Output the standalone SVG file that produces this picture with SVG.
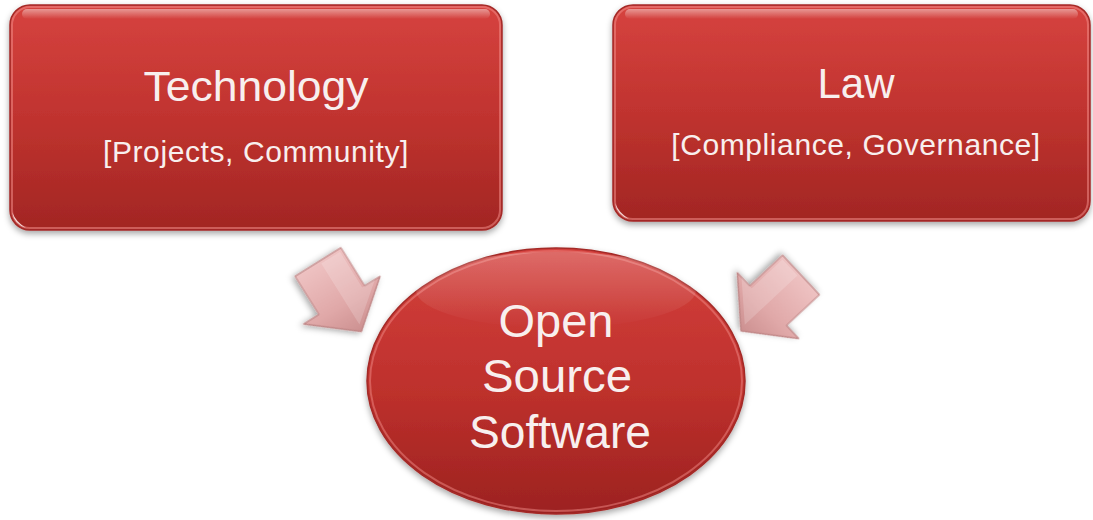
<svg xmlns="http://www.w3.org/2000/svg" width="1093" height="520" viewBox="0 0 1093 520">
<defs>
<linearGradient id="boxFill" x1="0" y1="0" x2="0" y2="1">
<stop offset="0" stop-color="#d6433f"/>
<stop offset="0.5" stop-color="#c0332f"/>
<stop offset="1" stop-color="#a22623"/>
</linearGradient>
<linearGradient id="ellFill" x1="0" y1="0" x2="0" y2="1">
<stop offset="0" stop-color="#d4403c"/>
<stop offset="0.55" stop-color="#bd302c"/>
<stop offset="1" stop-color="#9c2220"/>
</linearGradient>
<linearGradient id="gloss" x1="0" y1="0" x2="0" y2="1">
<stop offset="0" stop-color="#ffffff" stop-opacity="0.45"/>
<stop offset="1" stop-color="#ffffff" stop-opacity="0"/>
</linearGradient>
<linearGradient id="arrowFill" x1="0" y1="0" x2="1" y2="0">
<stop offset="0" stop-color="#eec2c2"/>
<stop offset="0.6" stop-color="#e0a8a8"/>
<stop offset="1" stop-color="#cc9090"/>
</linearGradient>
<filter id="shadow" x="-10%" y="-10%" width="120%" height="130%">
<feDropShadow dx="0" dy="3" stdDeviation="3" flood-color="#000" flood-opacity="0.35"/>
</filter>
<style>
.box{fill:url(#boxFill);stroke:#a42a28;stroke-width:1.5;filter:url(#shadow)}
.rim{fill:none;stroke:#f08a86;stroke-opacity:0.55;stroke-width:2}
.corner{fill:#ffffff;fill-opacity:0.75}
.title{font-family:"Liberation Sans",Arial,sans-serif;fill:#f8efee;text-anchor:middle}
.t1{font-size:42px}
.t2{font-size:30px;letter-spacing:0.6px}
.t3{font-size:46px}
.arrow{fill:url(#arrowFill);stroke:#bf8585;stroke-width:1.2;stroke-linejoin:round;filter:url(#shadow)}
</style>
</defs>

<g id="connectors">
<g id="arrow-left" transform="translate(318,262) rotate(58)">
<polygon class="arrow" points="0,-27 45,-27 45,-45 82,0 45,45 45,27 0,27"/>
<polygon points="3,-24 45,-24 45,-39 75,-2 3,-2" fill="#ffffff" fill-opacity="0.18"/>
</g>
<g id="arrow-right" transform="translate(801,275) rotate(137)">
<polygon class="arrow" points="0,-27 45,-27 45,-45 82,0 45,45 45,27 0,27"/>
<polygon points="3,2 75,2 45,39 45,24 3,24" fill="#ffffff" fill-opacity="0.18"/>
</g>
</g>

<g id="node-technology">
<rect class="box" x="10" y="5" width="492" height="225" rx="20" ry="20"/>
<rect class="rim" x="12" y="7" width="488" height="221" rx="18" ry="18"/>
<rect x="22" y="9" width="468" height="10" rx="5" fill="url(#gloss)"/>
<path class="corner" d="M12,212 Q14,224 26,228 Q16,222 12,212 Z"/>
<text class="title t1" x="256" y="101" textLength="225" lengthAdjust="spacingAndGlyphs">Technology</text>
<text class="title t2" x="256" y="162">[Projects, Community]</text>
</g>

<g id="node-law">
<rect class="box" x="613" y="5" width="477" height="216" rx="20" ry="20"/>
<rect class="rim" x="615" y="7" width="473" height="212" rx="18" ry="18"/>
<rect x="625" y="9" width="453" height="10" rx="5" fill="url(#gloss)"/>
<path class="corner" d="M615,203 Q617,215 629,219 Q619,213 615,203 Z"/>
<text class="title t1" x="856" y="98">Law</text>
<text class="title t2" x="856" y="155">[Compliance, Governance]</text>
</g>

<g id="node-oss">
<ellipse cx="556" cy="381" rx="189" ry="133" fill="url(#ellFill)" stroke="#a42a28" stroke-width="1.5" filter="url(#shadow)"/>
<ellipse cx="556" cy="381" rx="186" ry="130" fill="none" stroke="#f08a86" stroke-opacity="0.5" stroke-width="2"/>
<ellipse cx="556" cy="290" rx="140" ry="38" fill="url(#gloss)" opacity="0.5"/>
<text class="title t3" x="556" y="337" textLength="115" lengthAdjust="spacingAndGlyphs">Open</text>
<text class="title t3" x="557" y="392" textLength="150" lengthAdjust="spacingAndGlyphs">Source</text>
<text class="title t3" x="560" y="448" textLength="182" lengthAdjust="spacingAndGlyphs">Software</text>
</g>
</svg>
